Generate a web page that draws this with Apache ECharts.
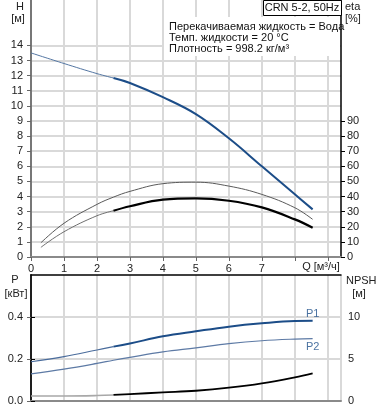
<!DOCTYPE html>
<html>
<head>
<meta charset="utf-8">
<script src="https://cdn.jsdelivr.net/npm/echarts@6.0.0/dist/echarts.min.js"></script>
<style>
html, body { margin: 0; padding: 0; background: #fff; }
#chart { width: 378px; height: 410px; }
</style>
</head>
<body>
<div id="chart"></div>
<script>
// flow Q [m3/h]
var qH = [0, 1, 2, 2.5, 3, 4, 5, 6, 7, 8, 8.54];
var hVals = [13.5, 12.8, 12.13, 11.84, 11.51, 10.57, 9.45, 7.85, 6.0, 4.15, 3.15];

var qEta = [0.3, 1, 2, 2.5, 3, 4, 5, 6, 7, 8, 8.54];
var etaPump = [9.4, 22.3, 34.8, 39.6, 43.4, 48.5, 49.5, 46.9, 41.4, 32.6, 24.9];
var etaTotal = [6.4, 16.7, 27.3, 30.6, 33.6, 37.9, 38.8, 37.2, 32.8, 24.9, 19.4];

var qP = [0, 1, 2, 2.5, 3, 4, 5, 6, 7, 8, 8.54];
var p1 = [0.187, 0.211, 0.243, 0.259, 0.274, 0.308, 0.332, 0.354, 0.37, 0.381, 0.382];
var p2 = [0.129, 0.152, 0.179, 0.194, 0.208, 0.234, 0.253, 0.273, 0.287, 0.295, 0.297];
var npsh = [0.6, 0.6, 0.65, 0.72, 0.82, 1.02, 1.22, 1.58, 2.1, 2.82, 3.3];

// tick labels
var qLabels = [0, 1, 2, 3, 4, 5, 6, 7];
var qTicks = [0, 1, 2, 3, 4, 5, 6, 7, 8, 9];
var hLabels = [0, 1, 2, 3, 4, 5, 6, 7, 8, 9, 10, 11, 12, 13, 14];
var etaLabels = [0, 10, 20, 30, 40, 50, 60, 70, 80, 90];
var pLabels = [0, 0.2, 0.4];
var npshLabels = [0, 5, 10];

var infoLines = ['Перекачиваемая жидкость = Вода', 'Темп. жидкости = 20 °C', 'Плотность = 998.2 кг/м³'];
var pumpName = 'CRN 5-2, 50Hz';

var CUT = 2.5;
var FONT = 'Liberation Sans, Arial, sans-serif';

function pts(q, v) {
  return q.map(function (x, i) { return [x, v[i]]; });
}
function thin(q, v) {
  return pts(q, v).filter(function (p) { return p[0] <= CUT; });
}
function thick(q, v) {
  return pts(q, v).filter(function (p) { return p[0] >= CUT; });
}
function line(name, data, xi, yi, color, width) {
  return {
    name: name, type: 'line', xAxisIndex: xi, yAxisIndex: yi,
    data: data, smooth: 0.4, symbol: 'none', silent: true,
    lineStyle: { color: color, width: width }, z: 3
  };
}

var gridLine = { show: true, lineStyle: { color: '#d9d9d9', width: 2 } };
var lbl = { color: '#222', fontSize: 11, fontFamily: FONT };

var myChart = echarts.init(document.getElementById('chart'), null, { renderer: 'canvas' });

var option = {
  animation: false,
  backgroundColor: '#fff',
  grid: [
    { left: 31, right: 37, top: 0, bottom: 153 },
    { left: 31, right: 37, top: 275, bottom: 9 }
  ],
  xAxis: [
    {
      gridIndex: 0, type: 'value', min: 0, max: 9.4, interval: 1,
      axisLine: { lineStyle: { color: '#8a8a8a', width: 2 } },
      axisTick: { show: true, length: 4, customValues: qTicks, lineStyle: { color: '#666' } },
      axisLabel: Object.assign({ margin: 6, customValues: qLabels }, lbl),
      splitLine: gridLine
    },
    {
      gridIndex: 1, type: 'value', min: 0, max: 9.4, interval: 1,
      axisLine: { lineStyle: { color: '#8a8a8a', width: 2 } },
      axisTick: { show: false },
      axisLabel: { show: false },
      splitLine: gridLine
    },
    {
      gridIndex: 1, type: 'value', min: 0, max: 9.4, position: 'top',
      axisLine: { show: true, onZero: false, lineStyle: { color: '#000', width: 1.5 } },
      axisTick: { show: false }, axisLabel: { show: false }, splitLine: { show: false }
    }
  ],
  yAxis: [
    {
      gridIndex: 0, type: 'value', min: 0, max: 17, interval: 1,
      axisLine: { show: true, lineStyle: { color: '#777', width: 2 } },
      axisTick: { show: true, length: 4, customValues: hLabels, lineStyle: { color: '#666' } },
      axisLabel: Object.assign({ margin: 8, customValues: hLabels }, lbl),
      splitLine: gridLine
    },
    {
      gridIndex: 0, type: 'value', min: 0, max: 170, interval: 10, position: 'right',
      axisLine: { show: true, lineStyle: { color: '#000', width: 1.5 } },
      axisTick: { show: true, length: 4, customValues: etaLabels, lineStyle: { color: '#000' } },
      axisLabel: Object.assign({ margin: 6, customValues: etaLabels }, lbl),
      splitLine: { show: false }
    },
    {
      gridIndex: 1, type: 'value', min: 0, max: 0.6, interval: 0.2,
      axisLine: { show: true, lineStyle: { color: '#777', width: 2 } },
      axisTick: { show: true, length: 4, customValues: pLabels, lineStyle: { color: '#666' } },
      axisLabel: Object.assign({
        margin: 8, customValues: pLabels,
        formatter: function (v) { return v.toFixed(1); }
      }, lbl),
      splitLine: gridLine
    },
    {
      gridIndex: 1, type: 'value', min: 0, max: 15, interval: 5, position: 'right',
      axisLine: { show: true, lineStyle: { color: '#000', width: 1.5 } },
      axisTick: { show: true, length: 4, customValues: npshLabels, lineStyle: { color: '#000' } },
      axisLabel: Object.assign({ margin: 7, customValues: npshLabels }, lbl),
      splitLine: { show: false }
    }
  ],
  series: [
    line('H', thin(qH, hVals), 0, 0, '#5577a3', 1),
    line('H', thick(qH, hVals), 0, 0, '#1c4d88', 2),
    line('eta pump', pts(qEta, etaPump), 0, 1, '#5a5a5a', 1),
    line('eta', thin(qEta, etaTotal), 0, 1, '#707070', 1),
    line('eta', thick(qEta, etaTotal), 0, 1, '#000', 2.2),
    line('P1', thin(qP, p1), 1, 2, '#4a6c9c', 1.2),
    line('P1', thick(qP, p1), 1, 2, '#1c4d88', 2),
    line('P2', pts(qP, p2), 1, 2, '#5d7aa5', 1.2),
    line('NPSH', thin(qP, npsh), 1, 3, '#a8a8a8', 1.6),
    line('NPSH', thick(qP, npsh), 1, 3, '#000', 1.8),
    {
      type: 'scatter', xAxisIndex: 1, yAxisIndex: 2, silent: true,
      symbolSize: 1, itemStyle: { color: 'rgba(0,0,0,0)' },
      data: [[qP[qP.length - 1], p1[p1.length - 1]]],
      label: { show: true, position: 'top', distance: 1, formatter: 'P1', color: '#1c4d88', fontSize: 11, fontFamily: FONT }
    },
    {
      type: 'scatter', xAxisIndex: 1, yAxisIndex: 2, silent: true,
      symbolSize: 1, itemStyle: { color: 'rgba(0,0,0,0)' },
      data: [[qP[qP.length - 1], p2[p2.length - 1]]],
      label: { show: true, position: 'bottom', distance: 2, formatter: 'P2', color: '#1c4d88', fontSize: 11, fontFamily: FONT }
    }
  ],
  graphic: [
    // info box
    { type: 'rect', left: 164, top: 17, z: 10, shape: { width: 176, height: 39 }, style: { fill: '#fff' } },
    { type: 'text', left: 169, top: 21, z: 11, style: { text: infoLines.join('\n'), font: '11px ' + FONT, fill: '#111', lineHeight: 11.2 } },
    { type: 'rect', left: 263, top: 0, z: 10, shape: { width: 78, height: 15 }, style: { fill: '#fff', stroke: '#000', lineWidth: 1 } },
    { type: 'text', x: 302, y: 8, z: 11, style: { text: pumpName, font: '11px ' + FONT, fill: '#111', align: 'center', verticalAlign: 'middle' } },
    // axis titles
    { type: 'text', x: 20, y: 7, style: { text: 'H', font: '11px ' + FONT, fill: '#222', align: 'center', verticalAlign: 'middle' } },
    { type: 'text', x: 18, y: 19, style: { text: '[м]', font: '11px ' + FONT, fill: '#222', align: 'center', verticalAlign: 'middle' } },
    { type: 'text', x: 345, y: 7, style: { text: 'eta', font: '11px ' + FONT, fill: '#222', verticalAlign: 'middle' } },
    { type: 'text', x: 345, y: 19, style: { text: '[%]', font: '11px ' + FONT, fill: '#222', verticalAlign: 'middle' } },
    { type: 'text', x: 321, y: 267, style: { text: 'Q [м³/ч]', font: '11px ' + FONT, fill: '#222', align: 'center', verticalAlign: 'middle' } },
    { type: 'text', x: 15, y: 280, style: { text: 'P', font: '11px ' + FONT, fill: '#222', align: 'center', verticalAlign: 'middle' } },
    { type: 'text', x: 16, y: 294, style: { text: '[кВт]', font: '11px ' + FONT, fill: '#222', align: 'center', verticalAlign: 'middle' } },
    { type: 'text', x: 346, y: 281, style: { text: 'NPSH', font: '11px ' + FONT, fill: '#222', verticalAlign: 'middle' } },
    { type: 'text', x: 359, y: 294, style: { text: '[м]', font: '11px ' + FONT, fill: '#222', align: 'center', verticalAlign: 'middle' } }
  ]
};

myChart.setOption(option);
</script>
</body>
</html>
